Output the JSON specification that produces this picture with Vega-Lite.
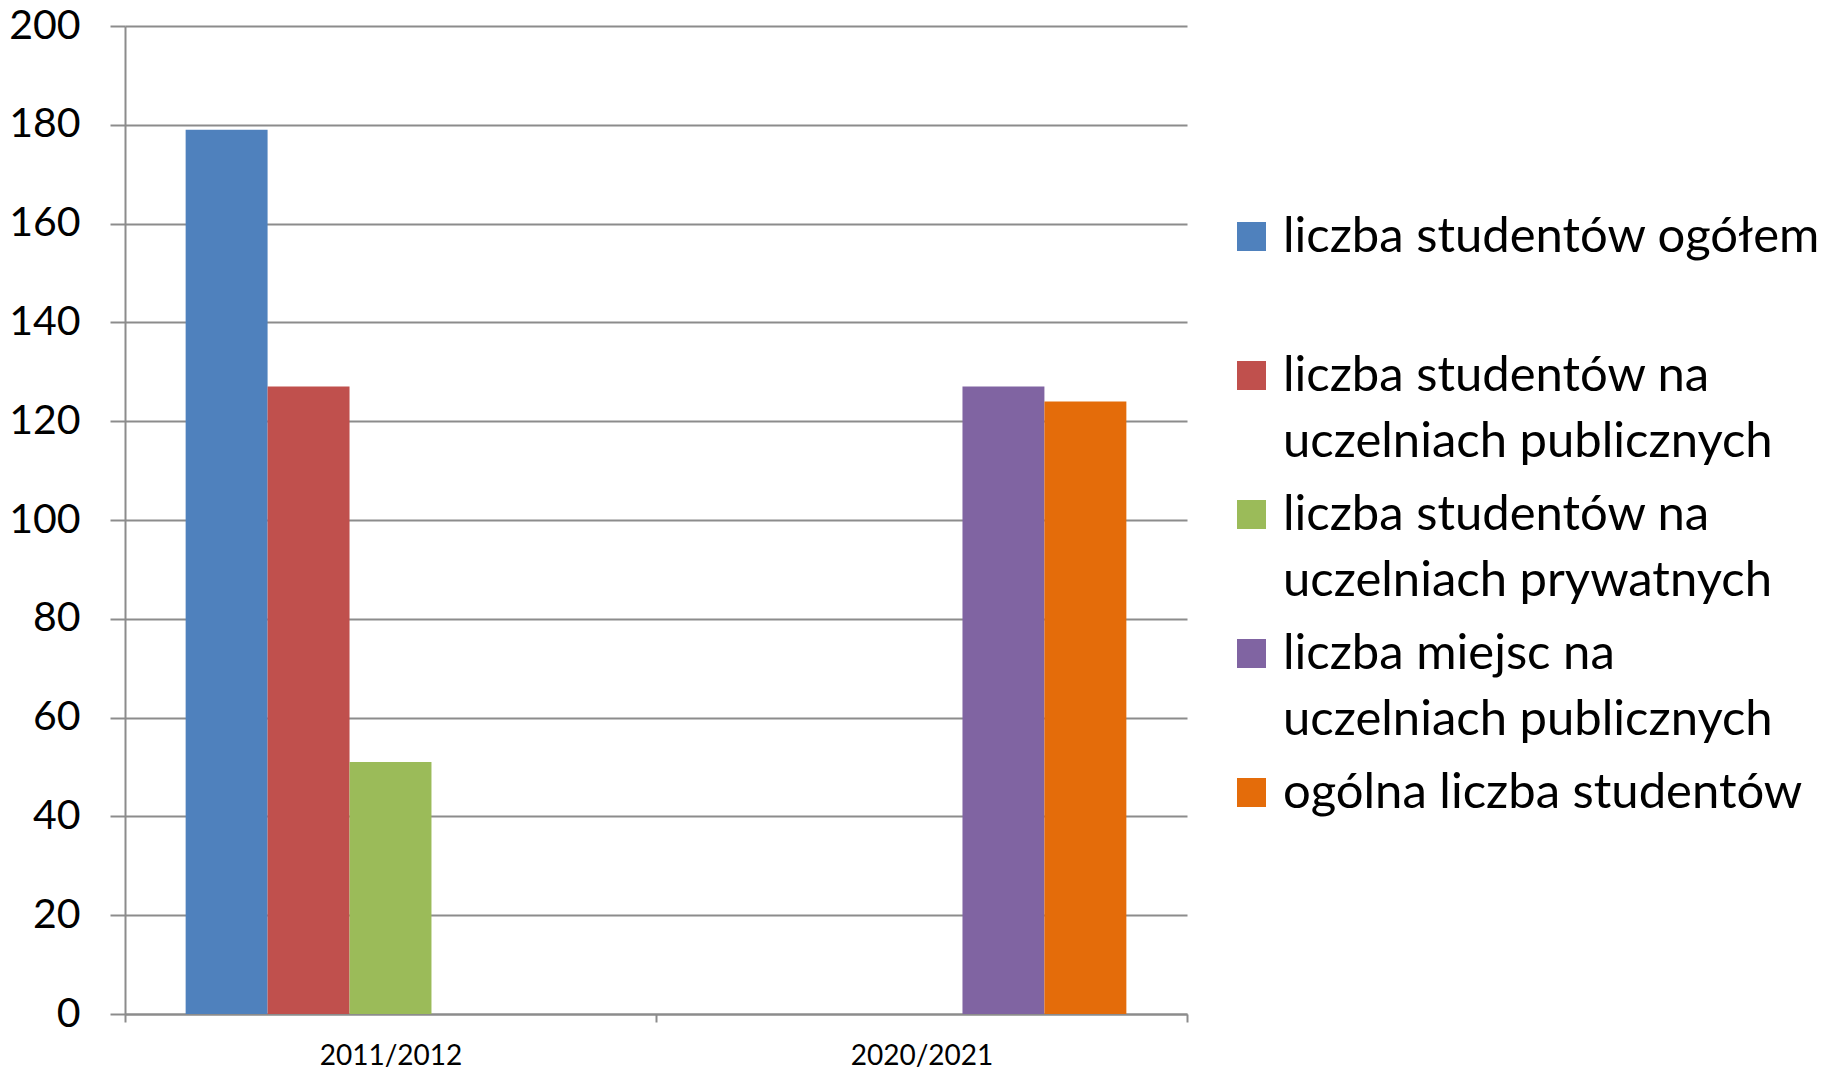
{
  "$schema": "https://vega.github.io/schema/vega-lite/v6.json",
  "autosize": "none",
  "padding": {"left": 125, "top": 26, "right": 650, "bottom": 56},
  "width": 1062,
  "height": 988,
  "background": "white",
  "data": {
    "values": [
      {"rok": "2011/2012", "seria": "liczba studentów ogółem\n ", "wartosc": 179},
      {"rok": "2011/2012", "seria": "liczba studentów na\nuczelniach publicznych", "wartosc": 127},
      {"rok": "2011/2012", "seria": "liczba studentów na\nuczelniach prywatnych", "wartosc": 51},
      {"rok": "2020/2021", "seria": "liczba miejsc na\nuczelniach publicznych", "wartosc": 127},
      {"rok": "2020/2021", "seria": "ogólna liczba studentów", "wartosc": 124}
    ]
  },
  "mark": {"type": "bar"},
  "encoding": {
    "x": {
      "field": "rok", "type": "nominal", "title": null,
      "scale": {"paddingInner": 0, "paddingOuter": 0},
      "axis": {
        "labelAngle": 0, "labelFont": "Lato", "labelFontSize": 28, "labelColor": "black",
        "domainColor": "#8c8c8c", "domainWidth": 2, "tickColor": "#8c8c8c", "tickWidth": 2,
        "tickSize": 8, "tickBand": "extent", "labelPadding": 20, "grid": false
      }
    },
    "xOffset": {
      "field": "seria", "type": "nominal",
      "scale": {"paddingInner": 0, "paddingOuter": 0.74, "domain": [
        "liczba studentów ogółem\n ",
        "liczba studentów na\nuczelniach publicznych",
        "liczba studentów na\nuczelniach prywatnych",
        "liczba miejsc na\nuczelniach publicznych",
        "ogólna liczba studentów"
      ]}
    },
    "y": {
      "field": "wartosc", "type": "quantitative", "title": null,
      "scale": {"domain": [0, 200], "nice": false},
      "axis": {
        "values": [0, 20, 40, 60, 80, 100, 120, 140, 160, 180, 200],
        "labelFont": "Lato", "labelFontSize": 41, "labelColor": "black",
        "domainColor": "#8c8c8c", "domainWidth": 2, "tickColor": "#8c8c8c", "tickWidth": 2,
        "tickSize": 15, "labelPadding": 30,
        "grid": true, "gridColor": "#8c8c8c", "gridWidth": 2
      }
    },
    "color": {
      "field": "seria", "type": "nominal", "title": null,
      "scale": {
        "domain": [
          "liczba studentów ogółem\n ",
          "liczba studentów na\nuczelniach publicznych",
          "liczba studentów na\nuczelniach prywatnych",
          "liczba miejsc na\nuczelniach publicznych",
          "ogólna liczba studentów"
        ],
        "range": ["#4f81bd", "#c0504d", "#9bbb59", "#8064a2", "#e46c0a"]
      },
      "legend": {
        "orient": "none", "legendX": 1102, "legendY": 186,
        "labelExpr": "split(datum.label, '\\n')",
        "labelFont": "Lato", "labelFontSize": 49, "labelColor": "black",
        "labelLimit": 800, "labelOffset": 7,
        "symbolType": "square", "symbolSize": 840, "symbolStrokeWidth": 0,
        "symbolOpacity": 1, "rowPadding": 23
      }
    }
  },
  "config": {
    "view": {"stroke": null},
    "style": {"guide-label": {"lineHeight": 66}}
  }
}
